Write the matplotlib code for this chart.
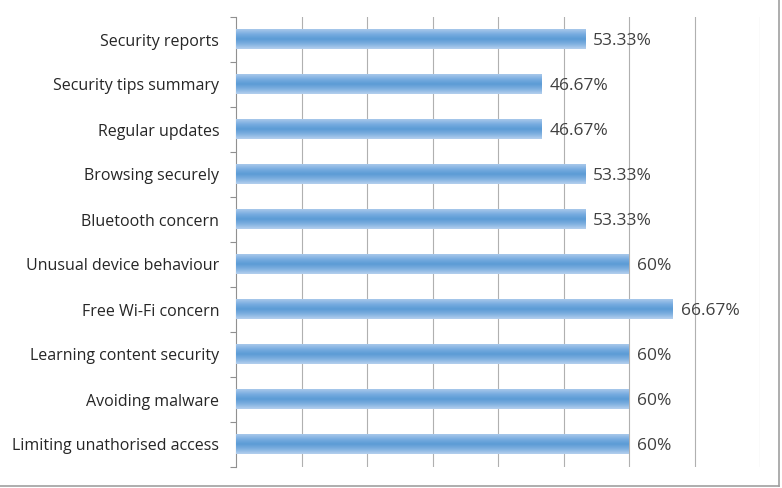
import matplotlib
matplotlib.use("Agg")
import matplotlib.pyplot as plt
import numpy as np
from matplotlib.colors import LinearSegmentedColormap
from matplotlib.lines import Line2D

categories = [
    "Security reports",
    "Security tips summary",
    "Regular updates",
    "Browsing securely",
    "Bluetooth concern",
    "Unusual device behaviour",
    "Free Wi-Fi concern",
    "Learning content security",
    "Avoiding malware",
    "Limiting unathorised access",
]
values = [53.33, 46.67, 46.67, 53.33, 53.33, 60, 66.67, 60, 60, 60]
value_labels = ["53.33%", "46.67%", "46.67%", "53.33%", "53.33%", "60%", "66.67%", "60%", "60%", "60%"]

plt.rcParams['font.family'] = ['Open Sans', 'DejaVu Sans']

fig = plt.figure(figsize=(7.82, 4.88), dpi=100)
ax = fig.add_axes([236/782, 1-467/488, (760-236)/782, (467-17)/488])

n = len(categories)
ypos = np.arange(n)[::-1]  # first category at top
bar_h = 0.43

cmap = LinearSegmentedColormap.from_list(
    "barg", [(0.0, "#b5d0ee"), (0.25, "#7fb0e0"), (0.5, "#5b9bd5"), (0.75, "#78ace0"), (1.0, "#a8c8ea")]
)
grad = np.linspace(0, 1, 64).reshape(-1, 1)

bars = ax.barh(ypos, values, height=bar_h, color="none", edgecolor="none", zorder=3)
for b in bars:
    x0, y0 = b.get_x(), b.get_y()
    w, h = b.get_width(), b.get_height()
    ax.imshow(grad, cmap=cmap, aspect="auto", extent=(x0, x0 + w, y0, y0 + h),
              origin="lower", zorder=3, interpolation="bicubic")

for y, v, lab in zip(ypos, values, value_labels):
    ax.text(v + 1.2, y - 0.03, lab, va="center", ha="left", fontsize=12.5, color="#404040", zorder=4)

ax.set_xlim(0, 80)
ax.set_ylim(-0.5, n - 0.5)
ax.set_xticks(np.arange(10, 81, 10))
ax.xaxis.grid(True, color="#b0b0b0", linewidth=0.8, zorder=0)
ax.tick_params(axis="x", length=0, labelbottom=False)

ax.set_yticks(ypos)
ax.set_yticklabels(categories, fontsize=11.5, color="#262626")
ax.tick_params(axis="y", length=0, pad=12)
ax.set_yticks(np.arange(-0.5, n, 1), minor=True)
ax.tick_params(axis="y", which="minor", length=4, color="#909090", width=0.8)

for s in ["top", "right", "bottom"]:
    ax.spines[s].set_visible(False)
ax.spines["left"].set_color("#909090")
ax.spines["left"].set_linewidth(0.8)

# outer chart frame (bottom and right)
fig.add_artist(Line2D([0, 779/782], [1-486/488, 1-486/488], transform=fig.transFigure, color="#a0a0a0", lw=1.2))
fig.add_artist(Line2D([779/782, 779/782], [1-486/488, 1.0], transform=fig.transFigure, color="#a0a0a0", lw=1.2))

fig.savefig("out.png", dpi=100)
